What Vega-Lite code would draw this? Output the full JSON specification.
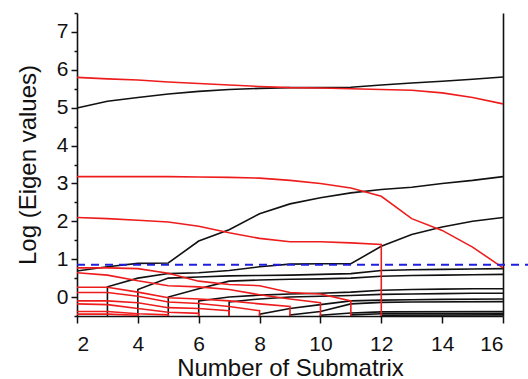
{
  "$schema": "https://vega.github.io/schema/vega-lite/v6.json",
  "width": 426,
  "height": 303,
  "autosize": {"type": "none"},
  "padding": {"left": 77, "top": 13, "right": 25, "bottom": 63},
  "background": "white",
  "config": {"view": {"stroke": null}, "font": "Liberation Sans"},
  "datasets": {
    "curves": [
      {"s":"B1","g":"black","x":2,"y":4.99,"o":0},{"s":"B1","g":"black","x":3,"y":5.17,"o":1},{"s":"B1","g":"black","x":4,"y":5.27,"o":2},{"s":"B1","g":"black","x":5,"y":5.36,"o":3},{"s":"B1","g":"black","x":6,"y":5.43,"o":4},{"s":"B1","g":"black","x":7,"y":5.48,"o":5},{"s":"B1","g":"black","x":8,"y":5.51,"o":6},{"s":"B1","g":"black","x":9,"y":5.53,"o":7},{"s":"B1","g":"black","x":10,"y":5.53,"o":8},{"s":"B1","g":"black","x":11,"y":5.54,"o":9},{"s":"B1","g":"black","x":12,"y":5.6,"o":10},{"s":"B1","g":"black","x":13,"y":5.65,"o":11},{"s":"B1","g":"black","x":14,"y":5.7,"o":12},{"s":"B1","g":"black","x":15,"y":5.75,"o":13},{"s":"B1","g":"black","x":16,"y":5.81,"o":14},
      {"s":"B2","g":"black","x":2,"y":0.69,"o":0},{"s":"B2","g":"black","x":3,"y":0.8,"o":1},{"s":"B2","g":"black","x":4,"y":0.89,"o":2},{"s":"B2","g":"black","x":5,"y":0.9,"o":3},{"s":"B2","g":"black","x":6,"y":1.48,"o":4},{"s":"B2","g":"black","x":7,"y":1.78,"o":5},{"s":"B2","g":"black","x":8,"y":2.2,"o":6},{"s":"B2","g":"black","x":9,"y":2.46,"o":7},{"s":"B2","g":"black","x":10,"y":2.62,"o":8},{"s":"B2","g":"black","x":11,"y":2.75,"o":9},{"s":"B2","g":"black","x":12,"y":2.84,"o":10},{"s":"B2","g":"black","x":13,"y":2.9,"o":11},{"s":"B2","g":"black","x":14,"y":3.0,"o":12},{"s":"B2","g":"black","x":15,"y":3.08,"o":13},{"s":"B2","g":"black","x":16,"y":3.18,"o":14},
      {"s":"B3","g":"black","x":3,"y":-0.5,"o":0},{"s":"B3","g":"black","x":3,"y":0.27,"o":1},{"s":"B3","g":"black","x":4,"y":0.5,"o":2},{"s":"B3","g":"black","x":5,"y":0.62,"o":3},{"s":"B3","g":"black","x":6,"y":0.64,"o":4},{"s":"B3","g":"black","x":7,"y":0.7,"o":5},{"s":"B3","g":"black","x":8,"y":0.8,"o":6},{"s":"B3","g":"black","x":9,"y":0.87,"o":7},{"s":"B3","g":"black","x":10,"y":0.88,"o":8},{"s":"B3","g":"black","x":11,"y":0.88,"o":9},{"s":"B3","g":"black","x":12,"y":1.34,"o":10},{"s":"B3","g":"black","x":13,"y":1.65,"o":11},{"s":"B3","g":"black","x":14,"y":1.85,"o":12},{"s":"B3","g":"black","x":15,"y":2.0,"o":13},{"s":"B3","g":"black","x":16,"y":2.1,"o":14},
      {"s":"B4","g":"black","x":4,"y":-0.5,"o":0},{"s":"B4","g":"black","x":4,"y":0.2,"o":1},{"s":"B4","g":"black","x":5,"y":0.5,"o":2},{"s":"B4","g":"black","x":6,"y":0.53,"o":3},{"s":"B4","g":"black","x":7,"y":0.56,"o":4},{"s":"B4","g":"black","x":8,"y":0.57,"o":5},{"s":"B4","g":"black","x":9,"y":0.58,"o":6},{"s":"B4","g":"black","x":10,"y":0.6,"o":7},{"s":"B4","g":"black","x":11,"y":0.62,"o":8},{"s":"B4","g":"black","x":12,"y":0.7,"o":9},{"s":"B4","g":"black","x":13,"y":0.72,"o":10},{"s":"B4","g":"black","x":14,"y":0.73,"o":11},{"s":"B4","g":"black","x":15,"y":0.74,"o":12},{"s":"B4","g":"black","x":16,"y":0.75,"o":13},
      {"s":"B5","g":"black","x":5,"y":-0.5,"o":0},{"s":"B5","g":"black","x":5,"y":0.0,"o":1},{"s":"B5","g":"black","x":6,"y":0.22,"o":2},{"s":"B5","g":"black","x":7,"y":0.42,"o":3},{"s":"B5","g":"black","x":8,"y":0.45,"o":4},{"s":"B5","g":"black","x":9,"y":0.47,"o":5},{"s":"B5","g":"black","x":10,"y":0.48,"o":6},{"s":"B5","g":"black","x":11,"y":0.5,"o":7},{"s":"B5","g":"black","x":12,"y":0.55,"o":8},{"s":"B5","g":"black","x":13,"y":0.57,"o":9},{"s":"B5","g":"black","x":14,"y":0.58,"o":10},{"s":"B5","g":"black","x":15,"y":0.59,"o":11},{"s":"B5","g":"black","x":16,"y":0.6,"o":12},
      {"s":"B6","g":"black","x":6,"y":-0.5,"o":0},{"s":"B6","g":"black","x":6,"y":-0.1,"o":1},{"s":"B6","g":"black","x":7,"y":0.0,"o":2},{"s":"B6","g":"black","x":8,"y":0.05,"o":3},{"s":"B6","g":"black","x":9,"y":0.08,"o":4},{"s":"B6","g":"black","x":10,"y":0.1,"o":5},{"s":"B6","g":"black","x":11,"y":0.13,"o":6},{"s":"B6","g":"black","x":12,"y":0.18,"o":7},{"s":"B6","g":"black","x":13,"y":0.2,"o":8},{"s":"B6","g":"black","x":14,"y":0.21,"o":9},{"s":"B6","g":"black","x":15,"y":0.22,"o":10},{"s":"B6","g":"black","x":16,"y":0.22,"o":11},
      {"s":"B7","g":"black","x":7,"y":-0.5,"o":0},{"s":"B7","g":"black","x":7,"y":-0.13,"o":1},{"s":"B7","g":"black","x":8,"y":-0.05,"o":2},{"s":"B7","g":"black","x":9,"y":0.0,"o":3},{"s":"B7","g":"black","x":10,"y":0.02,"o":4},{"s":"B7","g":"black","x":11,"y":0.04,"o":5},{"s":"B7","g":"black","x":12,"y":0.07,"o":6},{"s":"B7","g":"black","x":13,"y":0.08,"o":7},{"s":"B7","g":"black","x":14,"y":0.09,"o":8},{"s":"B7","g":"black","x":15,"y":0.1,"o":9},{"s":"B7","g":"black","x":16,"y":0.1,"o":10},
      {"s":"B8","g":"black","x":8,"y":-0.5,"o":0},{"s":"B8","g":"black","x":8,"y":-0.45,"o":1},{"s":"B8","g":"black","x":9,"y":-0.3,"o":2},{"s":"B8","g":"black","x":10,"y":-0.2,"o":3},{"s":"B8","g":"black","x":11,"y":-0.1,"o":4},{"s":"B8","g":"black","x":12,"y":-0.08,"o":5},{"s":"B8","g":"black","x":13,"y":-0.07,"o":6},{"s":"B8","g":"black","x":14,"y":-0.06,"o":7},{"s":"B8","g":"black","x":16,"y":-0.05,"o":8},
      {"s":"B9","g":"black","x":9,"y":-0.5,"o":0},{"s":"B9","g":"black","x":9,"y":-0.47,"o":1},{"s":"B9","g":"black","x":10,"y":-0.38,"o":2},{"s":"B9","g":"black","x":11,"y":-0.18,"o":3},{"s":"B9","g":"black","x":12,"y":-0.14,"o":4},{"s":"B9","g":"black","x":13,"y":-0.13,"o":5},{"s":"B9","g":"black","x":16,"y":-0.12,"o":6},
      {"s":"B10","g":"black","x":10,"y":-0.5,"o":0},{"s":"B10","g":"black","x":10,"y":-0.48,"o":1},{"s":"B10","g":"black","x":11,"y":-0.42,"o":2},{"s":"B10","g":"black","x":12,"y":-0.39,"o":3},{"s":"B10","g":"black","x":16,"y":-0.38,"o":4},
      {"s":"B11","g":"black","x":11,"y":-0.5,"o":0},{"s":"B11","g":"black","x":11,"y":-0.47,"o":1},{"s":"B11","g":"black","x":12,"y":-0.44,"o":2},{"s":"B11","g":"black","x":16,"y":-0.43,"o":3},
      {"s":"B12","g":"black","x":12,"y":-0.5,"o":0},{"s":"B12","g":"black","x":12,"y":-0.48,"o":1},{"s":"B12","g":"black","x":16,"y":-0.47,"o":2},
      {"s":"R1","g":"red","x":2,"y":5.8,"o":0},{"s":"R1","g":"red","x":3,"y":5.76,"o":1},{"s":"R1","g":"red","x":4,"y":5.73,"o":2},{"s":"R1","g":"red","x":5,"y":5.68,"o":3},{"s":"R1","g":"red","x":6,"y":5.64,"o":4},{"s":"R1","g":"red","x":7,"y":5.6,"o":5},{"s":"R1","g":"red","x":8,"y":5.56,"o":6},{"s":"R1","g":"red","x":9,"y":5.53,"o":7},{"s":"R1","g":"red","x":10,"y":5.52,"o":8},{"s":"R1","g":"red","x":11,"y":5.5,"o":9},{"s":"R1","g":"red","x":12,"y":5.48,"o":10},{"s":"R1","g":"red","x":13,"y":5.46,"o":11},{"s":"R1","g":"red","x":14,"y":5.39,"o":12},{"s":"R1","g":"red","x":15,"y":5.27,"o":13},{"s":"R1","g":"red","x":16,"y":5.1,"o":14},
      {"s":"R2","g":"red","x":2,"y":3.18,"o":0},{"s":"R2","g":"red","x":3,"y":3.18,"o":1},{"s":"R2","g":"red","x":4,"y":3.18,"o":2},{"s":"R2","g":"red","x":5,"y":3.18,"o":3},{"s":"R2","g":"red","x":6,"y":3.17,"o":4},{"s":"R2","g":"red","x":7,"y":3.16,"o":5},{"s":"R2","g":"red","x":8,"y":3.14,"o":6},{"s":"R2","g":"red","x":9,"y":3.08,"o":7},{"s":"R2","g":"red","x":10,"y":3.0,"o":8},{"s":"R2","g":"red","x":11,"y":2.88,"o":9},{"s":"R2","g":"red","x":12,"y":2.66,"o":10},{"s":"R2","g":"red","x":13,"y":2.07,"o":11},{"s":"R2","g":"red","x":14,"y":1.76,"o":12},{"s":"R2","g":"red","x":15,"y":1.32,"o":13},{"s":"R2","g":"red","x":16,"y":0.77,"o":14},
      {"s":"R3","g":"red","x":2,"y":2.1,"o":0},{"s":"R3","g":"red","x":3,"y":2.07,"o":1},{"s":"R3","g":"red","x":4,"y":2.03,"o":2},{"s":"R3","g":"red","x":5,"y":1.98,"o":3},{"s":"R3","g":"red","x":6,"y":1.87,"o":4},{"s":"R3","g":"red","x":7,"y":1.7,"o":5},{"s":"R3","g":"red","x":8,"y":1.55,"o":6},{"s":"R3","g":"red","x":9,"y":1.46,"o":7},{"s":"R3","g":"red","x":10,"y":1.46,"o":8},{"s":"R3","g":"red","x":11,"y":1.43,"o":9},{"s":"R3","g":"red","x":12,"y":1.39,"o":10},{"s":"R3","g":"red","x":12,"y":-0.5,"o":11},
      {"s":"R4","g":"red","x":2,"y":0.77,"o":0},{"s":"R4","g":"red","x":3,"y":0.77,"o":1},{"s":"R4","g":"red","x":4,"y":0.75,"o":2},{"s":"R4","g":"red","x":5,"y":0.63,"o":3},{"s":"R4","g":"red","x":6,"y":0.42,"o":4},{"s":"R4","g":"red","x":7,"y":0.33,"o":5},{"s":"R4","g":"red","x":8,"y":0.3,"o":6},{"s":"R4","g":"red","x":9,"y":0.12,"o":7},{"s":"R4","g":"red","x":10,"y":0.08,"o":8},{"s":"R4","g":"red","x":11,"y":-0.1,"o":9},{"s":"R4","g":"red","x":11,"y":-0.5,"o":10},
      {"s":"R5","g":"red","x":2,"y":0.64,"o":0},{"s":"R5","g":"red","x":3,"y":0.58,"o":1},{"s":"R5","g":"red","x":4,"y":0.43,"o":2},{"s":"R5","g":"red","x":5,"y":0.3,"o":3},{"s":"R5","g":"red","x":6,"y":0.27,"o":4},{"s":"R5","g":"red","x":7,"y":0.2,"o":5},{"s":"R5","g":"red","x":8,"y":0.06,"o":6},{"s":"R5","g":"red","x":9,"y":-0.05,"o":7},{"s":"R5","g":"red","x":10,"y":-0.15,"o":8},{"s":"R5","g":"red","x":10,"y":-0.5,"o":9},
      {"s":"R6","g":"red","x":2,"y":0.26,"o":0},{"s":"R6","g":"red","x":3,"y":0.26,"o":1},{"s":"R6","g":"red","x":4,"y":0.13,"o":2},{"s":"R6","g":"red","x":5,"y":-0.02,"o":3},{"s":"R6","g":"red","x":6,"y":-0.05,"o":4},{"s":"R6","g":"red","x":7,"y":-0.1,"o":5},{"s":"R6","g":"red","x":8,"y":-0.18,"o":6},{"s":"R6","g":"red","x":9,"y":-0.25,"o":7},{"s":"R6","g":"red","x":9,"y":-0.5,"o":8},
      {"s":"R7","g":"red","x":2,"y":0.12,"o":0},{"s":"R7","g":"red","x":3,"y":0.12,"o":1},{"s":"R7","g":"red","x":4,"y":0.02,"o":2},{"s":"R7","g":"red","x":5,"y":-0.13,"o":3},{"s":"R7","g":"red","x":6,"y":-0.17,"o":4},{"s":"R7","g":"red","x":7,"y":-0.25,"o":5},{"s":"R7","g":"red","x":8,"y":-0.36,"o":6},{"s":"R7","g":"red","x":8,"y":-0.5,"o":7},
      {"s":"R8","g":"red","x":2,"y":-0.1,"o":0},{"s":"R8","g":"red","x":3,"y":-0.1,"o":1},{"s":"R8","g":"red","x":4,"y":-0.15,"o":2},{"s":"R8","g":"red","x":5,"y":-0.28,"o":3},{"s":"R8","g":"red","x":6,"y":-0.3,"o":4},{"s":"R8","g":"red","x":7,"y":-0.36,"o":5},{"s":"R8","g":"red","x":7,"y":-0.5,"o":6},
      {"s":"R9","g":"red","x":2,"y":-0.18,"o":0},{"s":"R9","g":"red","x":3,"y":-0.2,"o":1},{"s":"R9","g":"red","x":4,"y":-0.3,"o":2},{"s":"R9","g":"red","x":5,"y":-0.4,"o":3},{"s":"R9","g":"red","x":6,"y":-0.43,"o":4},{"s":"R9","g":"red","x":6,"y":-0.5,"o":5},
      {"s":"R10","g":"red","x":2,"y":-0.38,"o":0},{"s":"R10","g":"red","x":3,"y":-0.38,"o":1},{"s":"R10","g":"red","x":4,"y":-0.44,"o":2},{"s":"R10","g":"red","x":5,"y":-0.47,"o":3},{"s":"R10","g":"red","x":5,"y":-0.5,"o":4},
      {"s":"R11","g":"red","x":2,"y":-0.45,"o":0},{"s":"R11","g":"red","x":3,"y":-0.45,"o":1},{"s":"R11","g":"red","x":4,"y":-0.48,"o":2},{"s":"R11","g":"red","x":4,"y":-0.5,"o":3}
    ],
    "threshold": [{"y": 0.85}]
  },
  "layer": [
    {
      "data": {"name": "curves"},
      "transform": [{"filter": "datum.g === 'black'"}],
      "mark": {"type": "line", "strokeWidth": 1.6, "color": "#111111"},
      "encoding": {
        "x": {"field": "x", "type": "quantitative",
              "scale": {"domain": [2, 16], "nice": false, "zero": false},
              "axis": {"values": [2,3,4,5,6,7,8,9,10,11,12,13,14,15,16],
                       "labelExpr": "datum.value % 2 === 0 ? format(datum.value, 'd') : ''",
                       "tickSize": {"condition": {"test": "datum.value % 2 !== 0", "value": 4}, "value": 7},
                       "grid": false, "domainColor": "#111111", "domainWidth": 1.6,
                       "tickColor": "#111111", "tickWidth": 1.5,
                       "labelFontSize": 21, "labelColor": "#111111", "labelPadding": 10,
                       "title": "Number of Submatrix", "titleFontSize": 24, "titleFontWeight": "normal",
                       "titleColor": "#111111", "titlePadding": 2}},
        "y": {"field": "y", "type": "quantitative",
              "scale": {"domain": [-0.5, 7.5], "nice": false, "zero": false},
              "axis": {"orient": "left",
                       "values": [-0.5,0,0.5,1,1.5,2,2.5,3,3.5,4,4.5,5,5.5,6,6.5,7,7.5],
                       "labelExpr": "datum.value % 1 === 0 ? format(datum.value, 'd') : ''",
                       "tickSize": {"condition": {"test": "datum.value % 1 !== 0", "value": 3}, "value": 6},
                       "grid": false, "domainColor": "#111111", "domainWidth": 1.6,
                       "tickColor": "#111111", "tickWidth": 1.5,
                       "labelFontSize": 21, "labelColor": "#111111", "labelPadding": 3,
                       "title": "Log (Eigen values)", "titleFontSize": 24, "titleFontWeight": "normal",
                       "titleColor": "#111111", "titlePadding": 16}},
        "detail": {"field": "s", "type": "nominal"},
        "order": {"field": "o", "type": "quantitative"}
      }
    },
    {
      "data": {"name": "curves"},
      "transform": [{"filter": "datum.g === 'red'"}],
      "mark": {"type": "line", "strokeWidth": 1.6, "color": "#ee1c1c"},
      "encoding": {
        "x": {"field": "x", "type": "quantitative"},
        "y": {"field": "y", "type": "quantitative",
              "axis": {"orient": "right", "labels": false, "ticks": false, "title": null, "grid": false,
                       "domainColor": "#111111", "domainWidth": 1.6}},
        "detail": {"field": "s", "type": "nominal"},
        "order": {"field": "o", "type": "quantitative"}
      }
    },
    {
      "data": {"name": "threshold"},
      "mark": {"type": "rule", "color": "#1f1fe0", "strokeWidth": 2, "strokeDash": [8, 6]},
      "encoding": {
        "y": {"field": "y", "type": "quantitative", "axis": null},
        "x": {"datum": 2},
        "x2": {"datum": 17}
      }
    }
  ],
  "resolve": {"axis": {"y": "independent"}}
}
